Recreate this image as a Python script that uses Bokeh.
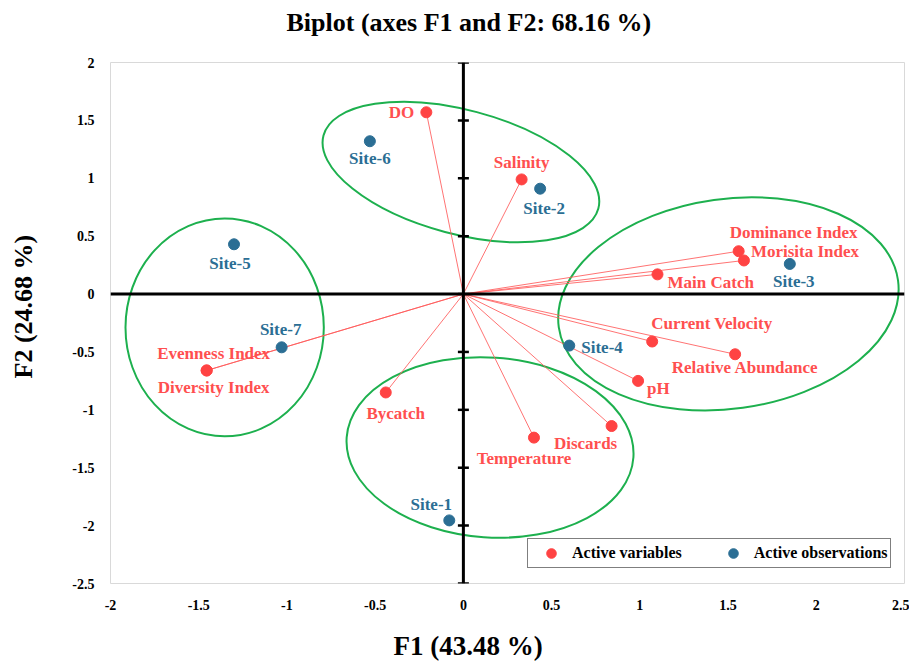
from bokeh.plotting import figure
from bokeh.models import ColumnDataSource, Span, Legend, LegendItem, FixedTicker, Range1d, Title
from bokeh.core.properties import value
from bokeh.embed import file_html
from bokeh.resources import INLINE

# ---------------- data ----------------
chart_title = "Biplot (axes F1 and F2: 68.16 %)"
x_title = "F1 (43.48 %)"
y_title = "F2 (24.68 %)"

var_names = ["DO", "Salinity", "Dominance Index", "Morisita Index", "Main Catch",
             "Current Velocity", "Relative Abundance", "pH", "Evenness Index",
             "Diversity Index", "Bycatch", "Temperature", "Discards"]
var_f1 = [-0.21, 0.33, 1.56, 1.59, 1.10, 1.07, 1.54, 0.99, -1.455, -1.455, -0.44, 0.40, 0.84]
var_f2 = [1.57, 0.99, 0.37, 0.29, 0.17, -0.41, -0.52, -0.75, -0.66, -0.66, -0.85, -1.24, -1.14]

obs_names = ["Site-1", "Site-2", "Site-3", "Site-4", "Site-5", "Site-6", "Site-7"]
obs_f1 = [-0.08, 0.435, 1.85, 0.60, -1.30, -0.53, -1.03]
obs_f2 = [-1.955, 0.91, 0.26, -0.445, 0.43, 1.32, -0.46]

x_ticks = [-2, -1.5, -1, -0.5, 0, 0.5, 1, 1.5, 2, 2.5]
x_tick_labels = ["-2", "-1.5", "-1", "-0.5", "0", "0.5", "1", "1.5", "2", "2.5"]
y_ticks = [-2.5, -2, -1.5, -1, -0.5, 0, 0.5, 1, 1.5, 2]
y_tick_labels = ["-2.5", "-2", "-1.5", "-1", "-0.5", "0", "0.5", "1", "1.5", "2"]

# group ellipses (centre, size, rotation)
ell_x = [-0.014, -1.353, 1.502, 0.151]
ell_y = [1.054, -0.288, -0.085, -1.325]
ell_w = [1.612, 1.124, 1.941, 1.629]
ell_h = [1.071, 1.883, 1.813, 1.554]
ell_a = [-0.26, 0.0, 0.138, -0.07]

# ---------------- label placement (screen px) ----------------
var_lab = {
    "DO": (-12, 0, "right"),
    "Salinity": (0, -17, "center"),
    "Dominance Index": (-9, -19, "left"),
    "Morisita Index": (7, -9, "left"),
    "Main Catch": (10, 8, "left"),
    "Current Velocity": (-1, -18, "left"),
    "Relative Abundance": (10, 13, "center"),
    "pH": (9, 8, "left"),
    "Evenness Index": (7, -17, "center"),
    "Diversity Index": (7, 17, "center"),
    "Bycatch": (10, 21, "center"),
    "Temperature": (-10, 21, "center"),
    "Discards": (-26, 17, "center"),
}
obs_lab = {
    "Site-1": (-18, -16, "center"),
    "Site-2": (4, 20, "center"),
    "Site-3": (4, 18, "center"),
    "Site-4": (12, 2, "left"),
    "Site-5": (-4, 19, "center"),
    "Site-6": (0, 17, "center"),
    "Site-7": (-1, -18, "center"),
}

RED = "#FF4343"
RED_TXT = "#FF4F4F"
BLUE = "#2B6E94"
GREEN = "#1DB04E"
FONT = "Liberation Serif"

p = figure(frame_width=794, frame_height=521, output_backend="svg", toolbar_location=None,
           x_range=Range1d(-2, 2.5), y_range=Range1d(-2.5, 2),
           min_border_left=110, min_border_top=62, min_border_right=5, min_border_bottom=83)
p.background_fill_color = "white"
p.border_fill_color = "white"
p.outline_line_color = "#D9D9D9"
p.xgrid.visible = False
p.ygrid.visible = False
p.title.visible = False

for ax, ticks, labels in ((p.xaxis[0], x_ticks, x_tick_labels), (p.yaxis[0], y_ticks, y_tick_labels)):
    ax.ticker = FixedTicker(ticks=ticks)
    ax.major_label_overrides = {t: l for t, l in zip(ticks, labels)}
    ax.axis_line_color = None
    ax.major_tick_line_color = None
    ax.minor_tick_line_color = None
    ax.major_tick_out = 0
    ax.major_tick_in = 0
    ax.major_label_text_font = FONT
    ax.major_label_text_font_style = "bold"
    ax.major_label_text_font_size = "14px"
    ax.major_label_text_color = "black"
    ax.major_label_standoff = 16

tstyle = dict(text_font=FONT, text_font_style="bold", text_color="black", align="left")
# spacers between frame/axis and the titles, then the titles further out
p.add_layout(Title(text=" ", text_font_size="10px", standoff=8), "above")
p.add_layout(Title(text=chart_title, text_font_size="26px", offset=176, standoff=10, **tstyle), "above")
p.add_layout(Title(text=x_title, text_font_size="27px", offset=283, standoff=32, **tstyle), "below")
p.add_layout(Title(text=" ", text_font_size="10px", standoff=17), "left")
p.add_layout(Title(text=y_title, text_font_size="26px", offset=205, standoff=4, **tstyle), "left")

# ellipses
p.ellipse(x=ell_x, y=ell_y, width=ell_w, height=ell_h, angle=ell_a,
          fill_color=None, line_color=GREEN, line_width=2)

# central axes
p.add_layout(Span(location=0, dimension="width", line_color="black", line_width=3))
p.add_layout(Span(location=0, dimension="height", line_color="black", line_width=3))
p.scatter(x=[0] * len(y_ticks), y=y_ticks, marker="dash", size=11, line_color="black", line_width=2.5)

# vectors
p.segment(x0=[0] * len(var_f1), y0=[0] * len(var_f1), x1=var_f1, y1=var_f2,
          line_color="#FF5A5A", line_width=1, line_alpha=0.85)

vsrc = ColumnDataSource(dict(
    x=var_f1, y=var_f2, name=var_names,
    dx=[var_lab[n][0] for n in var_names],
    dy=[var_lab[n][1] for n in var_names],
    al=[var_lab[n][2] for n in var_names]))
osrc = ColumnDataSource(dict(
    x=obs_f1, y=obs_f2, name=obs_names,
    dx=[obs_lab[n][0] for n in obs_names],
    dy=[obs_lab[n][1] for n in obs_names],
    al=[obs_lab[n][2] for n in obs_names]))

rv = p.scatter("x", "y", source=vsrc, size=11, fill_color=RED, line_color=RED)
ro = p.scatter("x", "y", source=osrc, size=11, fill_color=BLUE, line_color=BLUE)

p.text("x", "y", text="name", source=vsrc, x_offset="dx", y_offset="dy", text_align="al",
       text_baseline="middle", text_font=value(FONT), text_font_style="bold",
       text_font_size="17px", text_color=RED_TXT)
p.text("x", "y", text="name", source=osrc, x_offset="dx", y_offset="dy", text_align="al",
       text_baseline="middle", text_font=value(FONT), text_font_style="bold",
       text_font_size="17px", text_color=BLUE)

legend = Legend(items=[LegendItem(label="Active variables", renderers=[rv]),
                       LegendItem(label="Active observations", renderers=[ro])],
                orientation="horizontal", location=(417, 15),
                padding=2, spacing=30, glyph_width=42, glyph_height=24, label_standoff=0,
                border_line_color="black", border_line_width=1,
                background_fill_color="white", background_fill_alpha=1,
                label_text_font=FONT, label_text_font_style="bold",
                label_text_font_size="16px", label_text_color="black", margin=0)
p.add_layout(legend, "center")

open("out.html", "w").write(file_html(p, INLINE))
